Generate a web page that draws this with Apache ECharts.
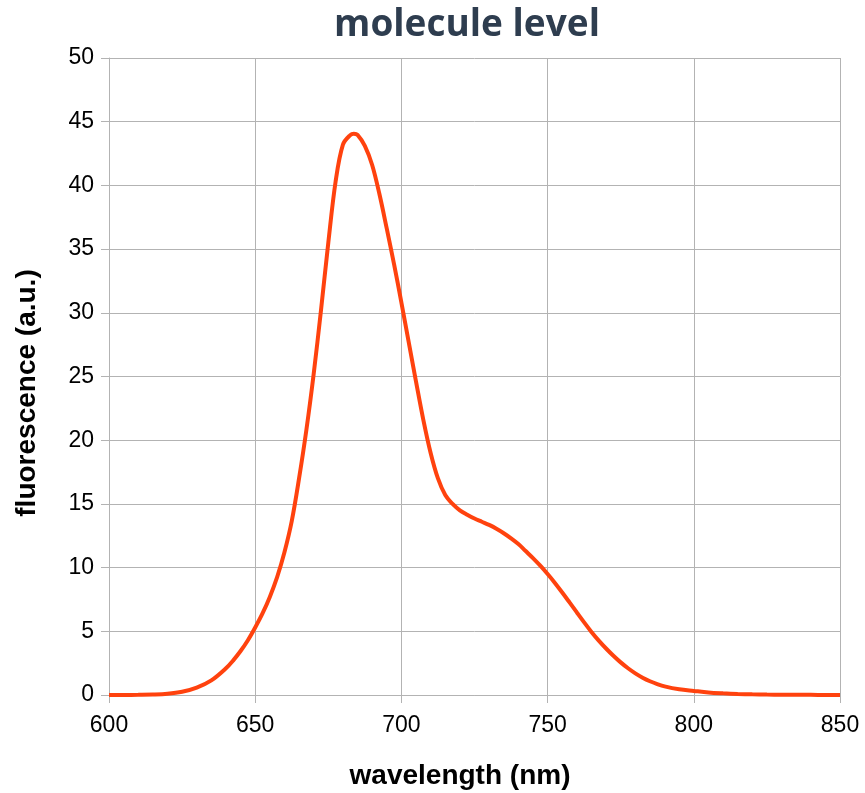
<!DOCTYPE html>
<html>
<head>
<meta charset="utf-8">
<script src="https://cdn.jsdelivr.net/npm/echarts@6/dist/echarts.min.js"></script>
<style>
  html, body { margin: 0; padding: 0; background: #ffffff; }
  #chart { width: 865px; height: 793px; }
</style>
</head>
<body>
<div id="chart"></div>
<script>
// Emission spectrum sampled along the wavelength axis (nm)
const wavelengths = [
  600, 605, 610, 615, 620, 625, 630, 635,
  640, 642.5, 645, 647.5, 650, 652.5, 655, 657.5, 660, 662.5, 665, 667.5,
  670, 672.5, 675, 677.5, 680, 682.5, 683.75, 685, 687.5, 690, 692.5, 695, 697.5,
  700, 702.5, 705, 707.5, 710, 712.5, 715, 717.5, 720, 722.5, 725, 727.5,
  730, 732.5, 735, 737.5, 740, 742.5, 745, 747.5, 750, 752.5, 755, 757.5,
  760, 762.5, 765, 767.5, 770, 772.5, 775, 777.5, 780, 782.5, 785, 787.5,
  790, 795, 800, 805, 810, 815, 820, 825, 830, 835, 840, 845, 850
];
const fluorescence = [
  0, 0, 0.01, 0.03, 0.09, 0.25, 0.58, 1.15,
  2.1, 2.72, 3.45, 4.3, 5.3, 6.4, 7.7, 9.25, 11.2, 13.65, 17.0, 20.8,
  25.2, 30.2, 35.5, 40.3, 43.2, 43.95, 44.05, 43.97, 43.1, 41.6, 39.3, 36.6, 33.8,
  30.8, 27.7, 24.6, 21.6, 19.0, 17.0, 15.7, 15.0, 14.5, 14.15, 13.85, 13.6,
  13.35, 13.05, 12.7, 12.3, 11.85, 11.3, 10.75, 10.15, 9.5, 8.8, 8.05, 7.27,
  6.48, 5.7, 4.95, 4.27, 3.65, 3.08, 2.56, 2.1, 1.7, 1.36, 1.08, 0.86,
  0.68, 0.45, 0.32, 0.2, 0.13, 0.08, 0.05, 0.03, 0.02, 0.01, 0.01, 0, 0
];

const xTicks = [600, 650, 700, 750, 800, 850];
const yTicks = [0, 5, 10, 15, 20, 25, 30, 35, 40, 45, 50];

const seriesData = wavelengths.map((w, i) => [w, fluorescence[i]]);

const gridColor = '#b3b3b3';
const labelFont = '"Liberation Sans", Arial, sans-serif';

const chart = echarts.init(document.getElementById('chart'), null, { renderer: 'canvas' });
chart.setOption({
  animation: false,
  backgroundColor: '#ffffff',
  grid: { left: 109, right: 25, top: 58, bottom: 98, containLabel: false },
  xAxis: {
    type: 'value',
    min: xTicks[0],
    max: xTicks[xTicks.length - 1],
    interval: 50,
    axisLine: { show: true, lineStyle: { color: gridColor, width: 1 } },
    axisTick: { show: true, length: 8, lineStyle: { color: gridColor } },
    splitLine: { show: true, lineStyle: { color: gridColor, width: 1 } },
    axisLabel: { margin: 19, fontSize: 23, color: '#000000', fontFamily: labelFont }
  },
  yAxis: {
    type: 'value',
    min: yTicks[0],
    max: yTicks[yTicks.length - 1],
    interval: 5,
    axisLine: { show: true, lineStyle: { color: gridColor, width: 1 } },
    axisTick: { show: true, length: 8, lineStyle: { color: gridColor } },
    splitLine: { show: true, lineStyle: { color: gridColor, width: 1 } },
    axisLabel: { margin: 15, fontSize: 23, color: '#000000', fontFamily: labelFont }
  },
  graphic: [
    {
      type: 'text',
      x: 467,
      y: 25,
      style: {
        text: 'molecule level',
        fontFamily: '"Open Sans", "Noto Sans", sans-serif',
        fontWeight: 'bold',
        fontSize: 37,
        fill: '#2e3d4f',
        align: 'center',
        verticalAlign: 'middle'
      }
    },
    {
      type: 'text',
      x: 460,
      y: 776,
      style: {
        text: 'wavelength (nm)',
        fontFamily: labelFont,
        fontWeight: 'bold',
        fontSize: 28,
        fill: '#000000',
        align: 'center',
        verticalAlign: 'middle'
      }
    },
    {
      type: 'text',
      x: 27,
      y: 393,
      rotation: Math.PI / 2,
      style: {
        text: 'fluorescence (a.u.)',
        fontFamily: labelFont,
        fontWeight: 'bold',
        fontSize: 28,
        fill: '#000000',
        align: 'center',
        verticalAlign: 'middle'
      }
    }
  ],
  series: [
    {
      type: 'line',
      data: seriesData,
      smooth: 0.35,
      showSymbol: false,
      lineStyle: { color: '#ff420e', width: 4 },
      clip: true
    }
  ]
});
</script>
</body>
</html>
